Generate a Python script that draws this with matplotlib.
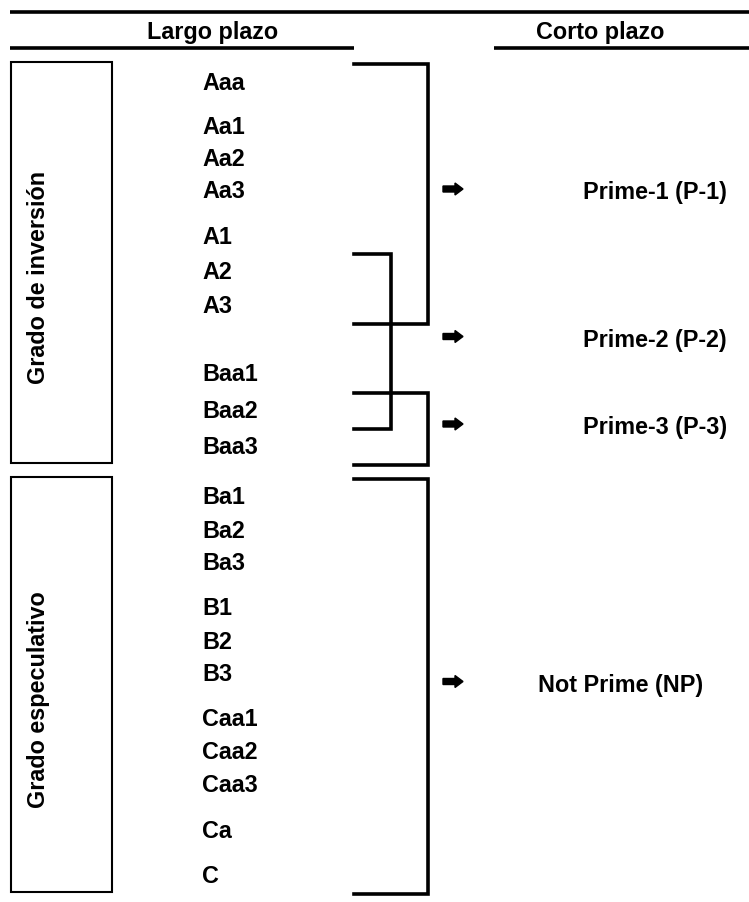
import matplotlib
matplotlib.use('Agg')
import matplotlib.pyplot as plt
import matplotlib.patches as mpatches
import numpy as np

# --- data -------------------------------------------------------------
long_term = ['Aaa', 'Aa1', 'Aa2', 'Aa3', 'A1', 'A2', 'A3',
             'Baa1', 'Baa2', 'Baa3',
             'Ba1', 'Ba2', 'Ba3', 'B1', 'B2', 'B3',
             'Caa1', 'Caa2', 'Caa3', 'Ca', 'C']
grades = ['Grado de inversión', 'Grado especulativo']
grade_span = [(0, 9), (10, 20)]          # first/last long-term index per grade
short_term = ['Prime-1 (P-1)', 'Prime-2 (P-2)', 'Prime-3 (P-3)', 'Not Prime (NP)']
short_span = [(0, 6), (5, 8), (8, 9), (10, 20)]   # long-term range mapped to each
headers = ['Largo plazo', 'Corto plazo']

# --- layout (pixels) --------------------------------------------------
W, H = 749, 903
row_first = 83
row_gaps = [44, 32, 33, 46, 35, 34, 68, 37, 36, 50, 34, 32, 45, 34, 32, 45, 33, 33, 46, 45]
row_y = row_first + np.concatenate([[0], np.cumsum(row_gaps)])
pad = 18
rating_x = 202
bracket_x0 = 354
bracket_x = [428, 391, 428, 428]
short_x = [583, 583, 583, 538]
FONT = 'Liberation Sans'
FS = 16.8

fig = plt.figure(figsize=(W / 100, H / 100), dpi=100)
ax = fig.add_axes([0, 0, 1, 1])
ax.set_xlim(0, W)
ax.set_ylim(H, 0)
ax.axis('off')

# header rules
ax.plot([10, W], [13, 13], color='black', lw=2.6, solid_capstyle='butt')
ax.plot([10, bracket_x0], [49, 49], color='black', lw=2.6, solid_capstyle='butt')
ax.plot([494, W], [49, 49], color='black', lw=2.6, solid_capstyle='butt')
for txt, cx in zip(headers, [213, 600]):
    ax.text(cx, 32, txt, ha='center', va='center', fontsize=FS,
            fontweight='bold', family=FONT)

# grade boxes with rotated labels
for name, (i0, i1) in zip(grades, grade_span):
    top, bot = row_y[i0] - pad - 2, row_y[i1] + pad - 2
    ax.add_patch(mpatches.Rectangle((11, top), 101, bot - top, fill=False,
                                    edgecolor='black', lw=1.5))
    ax.text(39, (top + bot) / 2 + 14, name, rotation=90, ha='center',
            va='center', fontsize=FS, fontweight='bold', family=FONT)

# long-term ratings
for lbl, y in zip(long_term, row_y):
    ax.text(rating_x, y, lbl, ha='left', va='center', fontsize=FS,
            fontweight='bold', family=FONT)

# brackets, arrows and short-term ratings
for lbl, (i0, i1), bx, sx in zip(short_term, short_span, bracket_x, short_x):
    top, bot = row_y[i0] - pad, row_y[i1] + pad
    ax.plot([bracket_x0, bx, bx, bracket_x0], [top, top, bot, bot],
            color='black', lw=2.6, solid_joinstyle='miter')
    mid = (top + bot) / 2 - 5
    ax.add_patch(mpatches.FancyArrow(443, mid, 20, 0, width=6, head_width=12,
                                     head_length=8, length_includes_head=True,
                                     color='black'))
    ax.text(sx, mid + 3, lbl, ha='left', va='center', fontsize=FS,
            fontweight='bold', family=FONT)

fig.savefig('out.png', dpi=100)
